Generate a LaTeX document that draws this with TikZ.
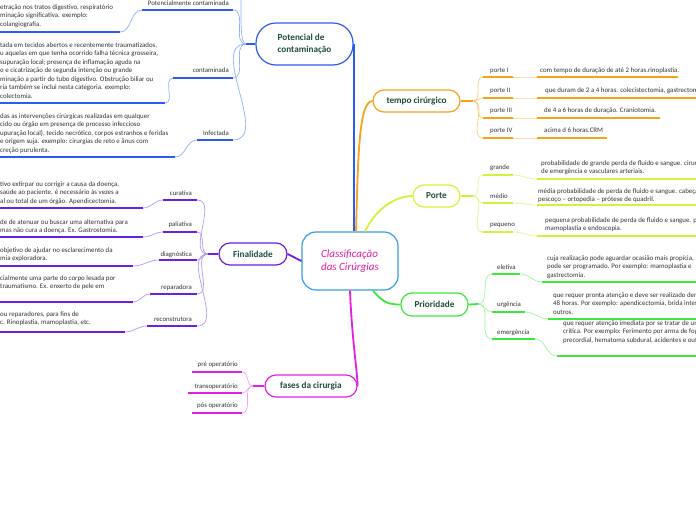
\documentclass[tikz,border=0pt]{standalone}
\usepackage{fontspec}
\setmainfont{Carlito}
\usetikzlibrary{calc}
\definecolor{txt}{HTML}{333333}
\definecolor{tgreen}{HTML}{1F4D3D}
\definecolor{cenB}{HTML}{3A9EE0}
\definecolor{cenT}{HTML}{E3199F}
\definecolor{blM}{HTML}{2D5BF2}\definecolor{blL}{HTML}{8FB0FA}
\definecolor{orM}{HTML}{F5A31A}\definecolor{orL}{HTML}{F9CD80}
\definecolor{yeM}{HTML}{D8F03A}\definecolor{yeL}{HTML}{E6F590}
\definecolor{grM}{HTML}{3DE83D}\definecolor{grL}{HTML}{9EF59E}
\definecolor{puM}{HTML}{6A1EE6}\definecolor{puL}{HTML}{B599F5}
\definecolor{maM}{HTML}{E51EE5}\definecolor{maL}{HTML}{F59EF5}
\tikzset{
  lbl/.style={font=\fontsize{6.8}{8}\selectfont, text=txt, inner sep=0pt},
  dsc/.style={font=\fontsize{6.9}{8.5}\selectfont, text=txt, align=left, inner sep=0pt, anchor=north west},
  dsl/.style={font=\fontsize{6.9}{8.5}\selectfont, text=txt, inner sep=0pt, anchor=base west},
  topic/.style={draw, fill=white, line width=1.2pt, font=\bfseries\fontsize{9.2}{11.5}\selectfont, text=tgreen, inner sep=0pt},
  thk/.style={line width=1.6pt},
  thn/.style={line width=0.7pt},
  conn/.style={line width=1.8pt},
}
% right-side row: main, light, fan, y label ul, x1, x2, x3, y desc ul, x4
\newcommand\rrow[9]{%
  \draw[#2,thn] (#3) to[out=0,in=180] (#5,#4);
  \draw[#1,thk] (#5,#4) -- (#6,#4);
  \draw[#2,thn] (#6,#4) to[out=0,in=180] (#7,#8);
  \draw[#1,thk] (#7,#8) -- (#9,#8);}
% left-side row: main, light, fan, y label ul, xright, xleft, x desc right, y desc ul, x desc left
\newcommand\lrow[9]{%
  \draw[#2,thn] (#3) to[out=180,in=0] (#5,#4);
  \draw[#1,thk] (#5,#4) -- (#6,#4);
  \draw[#2,thn] (#6,#4) to[out=180,in=0] (#7,#8);
  \draw[#1,thk] (#7,#8) -- (#9,#8);}
\begin{document}
\begin{tikzpicture}[x=1pt,y=-1pt]
\useasboundingbox (0,0) rectangle (696,520);
\clip (0,0) rectangle (696,520);
\fill[white] (0,0) rectangle (696,520);

% ---------- main nodes ----------
\node[draw=cenB, fill=white, line width=1.2pt, rounded corners=14pt, minimum width=96pt, minimum height=58pt,
      font=\itshape\fontsize{11}{12.5}\selectfont, text=cenT, align=left, inner sep=0pt] (cen) at (350,261)
      {Classificação\\das Cirúrgias};
\node[topic, draw=blM, rounded corners=20pt, minimum width=97pt, minimum height=42pt, align=left] (pot) at (304.5,44)
      {Potencial de\\contaminação};
\node[topic, draw=orM, rounded corners=11pt, minimum width=87pt, minimum height=22pt] (tem) at (416.5,101) {tempo cirúrgico};
\node[topic, draw=yeM, rounded corners=11pt, minimum width=47pt, minimum height=22pt] (por) at (436.5,196) {Porte};
\node[topic, draw=grM, rounded corners=11pt, minimum width=67pt, minimum height=23pt] (pri) at (434.5,304.5) {Prioridade};
\node[topic, draw=puM, rounded corners=11pt, minimum width=68pt, minimum height=22pt] (fin) at (253,254) {Finalidade};
\node[topic, draw=maM, rounded corners=11pt, minimum width=92pt, minimum height=22pt] (fas) at (311,386) {fases da cirurgia};

% ---------- central connectors ----------
\draw[blM,conn] (pot.east) -- (pot.east |- cen.north);
\draw[orM,conn] ([xshift=6pt]cen.north) .. controls +(2,-70) and +(-14,0) .. (tem.west);
\draw[yeM,conn] ([xshift=15pt]cen.north) .. controls +(12,-25) and +(-15,0) .. (por.west);
\draw[grM,conn] ([xshift=23pt]cen.south) .. controls +(10,12) and +(-12,0) .. (pri.west);
\draw[puM,conn] (cen.west) -- (fin.east);
\draw[maM,conn] (cen.south) .. controls (352,340) and (357,368) .. (fas.east);

% ---------- fan points ----------
\coordinate (pF) at (246,44);
\coordinate (tF) at (473,101);
\coordinate (oF) at (473,196);
\coordinate (rF) at (478,304);
\coordinate (fF) at (208,254);
\coordinate (sF) at (253,386);
\draw[blM,conn] (pot.west) -- (pF);
\draw[orM,conn] (tem.east) -- (tF);
\draw[yeM,conn] (por.east) -- (oF);
\draw[grM,conn] (pri.east) -- (rF);
\draw[puM,conn] (fin.west) -- (fF);
\draw[maM,conn] (fas.west) -- (sF);

% ---------- Potencial de contaminacao ----------
\draw[blL,thn] (pF) .. controls (240,44) and (241,20) .. (241,-12);
\lrow{blM}{blL}{pF}{10}{233}{142}{120}{32}{0}
\lrow{blM}{blL}{pF}{78}{233}{173}{165}{103}{0}
\lrow{blM}{blL}{pF}{140}{233}{197}{175}{157}{0}
\node[lbl, anchor=base east] (pc) at (229,5) {Potencialmente contaminada};
\node[lbl, anchor=base east] (co) at (229,72) {contaminada};
\node[lbl, anchor=base east] (in) at (229,135) {Infectada};
\node[dsc] (pcd) at (0,3) {\strut etração nos tratos digestivo, respiratório\\\strut minação significativa.  exemplo:\\\strut colangiografia.};
\node[dsc] (cod) at (0,41) {\strut tada em tecidos abertos e recentemente traumatizados,\\\strut u aquelas em que tenha ocorrido falha técnica grosseira,\\\strut supuração local; presença de inflamação aguda na\\\strut o e cicatrização de segunda intenção ou grande\\\strut minação a partir do tubo digestivo. Obstrução biliar ou\\\strut ria também se inclui nesta categoria.  exemplo:\\\strut colectomia.};
\node[dsc] (ind) at (0,112) {\strut das as intervenções cirúrgicas realizadas em qualquer\\\strut cido ou órgão em presença de processo infeccioso\\\strut upuração local), tecido necrótico, corpos estranhos e feridas\\\strut e origem suja. exemplo: cirurgias de reto e ânus com\\\strut creção purulenta.};

% ---------- tempo cirurgico ----------
\rrow{orM}{orL}{tF}{77}{483}{513}{537}{77}{678}
\rrow{orM}{orL}{tF}{98}{483}{513}{537}{98}{700}
\rrow{orM}{orL}{tF}{118}{483}{513}{537}{118}{660}
\rrow{orM}{orL}{tF}{138}{483}{513}{537}{138}{607}
\node[lbl, anchor=base west] (p1) at (490,72) {porte I};
\node[lbl, anchor=base west] (p2) at (490,92) {porte II};
\node[lbl, anchor=base west] (p3) at (490,112) {porte III};
\node[lbl, anchor=base west] (p4) at (490,132) {porte IV};
\node[dsl] (p1d) at (540,72) {com tempo de duração de até 2 horas.rinoplastia.};
\node[dsl] (p2d) at (545,92) {que duram de 2 a 4 horas.  colecistectomia, gastrectomia};
\node[dsl] (p3d) at (544,112) {de 4 a 6 horas de duração. Craniotomia.};
\node[dsl] (p4d) at (544,132) {acima d 6 horas.CRM};

% ---------- Porte ----------
\rrow{yeM}{yeL}{oF}{175}{483}{513}{537}{179}{700}
\rrow{yeM}{yeL}{oF}{203}{483}{513}{537}{205}{700}
\rrow{yeM}{yeL}{oF}{232}{483}{513}{537}{236}{700}
\node[lbl, anchor=base west] (gr) at (490,169) {grande};
\node[lbl, anchor=base west] (me) at (490,198) {médio};
\node[lbl, anchor=base west] (pe) at (490,226) {pequeno};
\node[dsc] (grd) at (541,159) {\strut probabilidade de grande perda de fluido e sangue. cirur\\\strut de emergência e vasculares arteriais.};
\node[dsc] (med) at (538,187) {\strut média probabilidade de perda de fluido e sangue. cabeça e\\\strut pescoço –  ortopedia – prótese de quadril.};
\node[dsc] (ped) at (545,216) {\strut pequena probabilidade de perda de fluido e sangue.  p\\\strut mamoplastia e endoscopia.};

% ---------- Prioridade ----------
\rrow{grM}{grL}{rF}{274}{492}{520}{542}{282}{700}
\rrow{grM}{grL}{rF}{312}{492}{525}{548}{319}{700}
\rrow{grM}{grL}{rF}{339}{492}{535}{557}{356}{700}
\node[lbl, anchor=base west] (el) at (497,269) {eletiva};
\node[lbl, anchor=base west] (ur) at (497,306) {urgência};
\node[lbl, anchor=base west] (em) at (497,334) {emergência};
\node[dsc] (eld) at (547,254) {\strut cuja realização pode aguardar ocasião mais propícia,\\\strut pode ser programado. Por exemplo: mamoplastia e\\\strut gastrectomia.};
\node[dsc] (urd) at (553,291) {\strut que requer pronta atenção e deve ser realizado den\\\strut 48 horas. Por exemplo: apendicectomia, brida intest\\\strut outros.};
\node[dsc] (emd) at (563,319) {\strut que requer atenção imediata por se tratar de um\\\strut crítica. Por exemplo: Ferimento por arma de fog\\\strut precordial, hematoma subdural, acidentes e out};

% ---------- Finalidade ----------
\lrow{puM}{puL}{fF}{200}{197}{163}{143}{208}{0}
\lrow{puM}{puL}{fF}{232}{197}{163}{143}{237}{0}
\lrow{puM}{puL}{fF}{260}{197}{159}{133}{266}{0}
\lrow{puM}{puL}{fF}{294}{197}{150}{133}{302}{0}
\lrow{puM}{puL}{fF}{326}{197}{147}{125}{332}{0}
\node[lbl, anchor=base east] (cu) at (192,195) {curativa};
\node[lbl, anchor=base east] (pa) at (192,226) {paliativa};
\node[lbl, anchor=base east] (di) at (192,256) {diagnóstica};
\node[lbl, anchor=base east] (re) at (192,289) {reparadora};
\node[lbl, anchor=base east] (rc) at (192,321) {reconstrutora};
\node[dsc] (cud) at (0,180) {\strut tivo extirpar ou corrigir a causa da doença,\\\strut saúde ao paciente. é necessário às vezes a\\\strut al ou total de um órgão. Apendicectomia.};
\node[dsc] (pad) at (0,218) {\strut de de atenuar ou buscar uma alternativa para\\\strut mas não cura a doença. Ex. Gastrostomia.};
\node[dsc] (did) at (0,246) {\strut objetivo de ajudar no esclarecimento da\\\strut mia exploradora.};
\node[dsc] (red) at (0,274) {\strut cialmente uma parte do corpo lesada por\\\strut traumatismo. Ex. enxerto de pele em};
\node[dsc] (rcd) at (0,310) {\strut ou reparadores, para fins de\\\strut c. Rinoplastia, mamoplastia, etc.};

% ---------- fases da cirurgia ----------
\draw[maL,thn] (sF) to[out=180,in=0] (242,372);
\draw[maM,thk] (242,372) -- (192,372);
\draw[maL,thn] (sF) to[out=180,in=0] (242,393);
\draw[maM,thk] (242,393) -- (188,393);
\draw[maL,thn] (sF) to[out=180,in=0] (242,413);
\draw[maM,thk] (242,413) -- (192,413);
\node[lbl, anchor=base east] (f1) at (238,366) {pré operatório};
\node[lbl, anchor=base east] (f2) at (238,388) {transoperatório};
\node[lbl, anchor=base east] (f3) at (238,407) {pós operatório};
\end{tikzpicture}
\end{document}
